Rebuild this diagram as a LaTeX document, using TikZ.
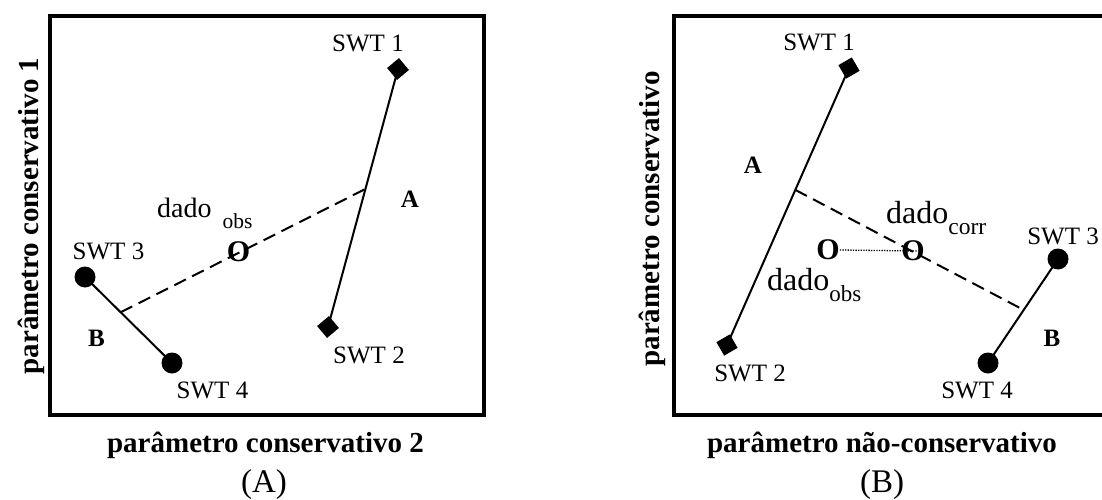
\documentclass[tikz,border=0pt]{standalone}
\usepackage{fontspec}
\setmainfont{Liberation Serif}
\usetikzlibrary{calc}
\begin{document}
\begin{tikzpicture}[x=1pt,y=-1pt,
  sq/.style={rectangle,fill=black,draw=none,minimum size=15.5pt,inner sep=0pt},
  dot/.style={circle,fill=black,draw=none,minimum size=21pt,inner sep=0pt},
  lbl/.style={font=\fontsize{25}{25}\selectfont,inner sep=0pt,anchor=base},
  letter/.style={font=\fontsize{25}{25}\selectfont\bfseries,inner sep=0pt,anchor=base},
  axis/.style={font=\fontsize{29}{29}\selectfont\bfseries,inner sep=0pt,anchor=base},
  panel/.style={font=\fontsize{33}{33}\selectfont,inner sep=0pt,anchor=base},
  datum/.style={font=\fontsize{30}{30}\selectfont\bfseries,inner sep=0pt},
  dlabel/.style={inner sep=0pt,anchor=base west},
  seg/.style={line width=2pt},
  perp/.style={line width=2pt,dash pattern=on 13pt off 7pt},
  frame/.style={line width=3.2pt},
  link/.style={line width=1.3pt,dash pattern=on 1.3pt off 1.3pt}
]
\newcommand{\subtxt}[2]{\raisebox{-11pt}{\fontsize{#1}{#1}\selectfont #2}}
\useasboundingbox (0,0) rectangle (1102,500);

% ---------------- Panel A ----------------
\draw[frame] (50,16) rectangle (484,415);
\node[sq,rotate=40] (a1) at (398,69) {};
\node[sq,rotate=40] (a2) at (328,327) {};
\node[dot] (a3) at (85,277) {};
\node[dot] (a4) at (172,363) {};
\draw[seg] (a1.center) -- (a2.center);
\draw[seg] (a3.center) -- (a4.center);
\coordinate (aA) at ($(a1.center)!0.465!(a2.center)$);
\coordinate (aB) at ($(a3.center)!0.41!(a4.center)$);
\draw[perp] (aB) -- (aA);
\node[datum] (aO) at (238.5,252) {O};
\node[lbl] (ta1) at (368,52) {SWT 1};
\node[lbl] (ta2) at (369,363) {SWT 2};
\node[lbl] (ta3) at (108.5,259) {SWT 3};
\node[lbl] (ta4) at (212.5,398) {SWT 4};
\node[letter] (tA) at (410,207) {A};
\node[letter] (tB) at (96.5,346) {B};
\node[dlabel,font=\fontsize{28}{28}\selectfont] (aobs) at (157,217) {dado\hspace{11pt}\subtxt{21.5}{obs}};
\node[axis,rotate=90] (ay) at (38,216) {parâmetro conservativo 1};
\node[axis] (ax) at (265.5,452) {parâmetro conservativo 2};
\node[panel] (pa) at (264,492) {(A)};

% ---------------- Panel B ----------------
\draw[frame] (1106,16) -- (674,16) -- (674,415) -- (1106,415);
\node[sq,rotate=30] (b1) at (849,68) {};
\node[sq,rotate=30] (b2) at (727,345) {};
\node[dot] (b3) at (1058,259) {};
\node[dot] (b4) at (988,363) {};
\draw[seg] (b1.center) -- (b2.center);
\draw[seg] (b3.center) -- (b4.center);
\coordinate (bA) at ($(b1.center)!0.44!(b2.center)$);
\coordinate (bB) at ($(b3.center)!0.49!(b4.center)$);
\draw[perp] (bA) -- (bB);
\node[datum] (bO1) at (828,250) {O};
\node[datum] (bO2) at (913,251) {O};
\draw[link] (bO1.east) -- ([xshift=5pt]bO2.center);
\node[lbl] (tb1) at (819,51) {SWT 1};
\node[lbl] (tb2) at (750,381) {SWT 2};
\node[lbl] (tb3) at (1063,244) {SWT 3};
\node[lbl] (tb4) at (977,398) {SWT 4};
\node[letter] (tbA) at (753,173) {A};
\node[letter] (tbB) at (1052,346) {B};
\node[dlabel,font=\fontsize{32}{32}\selectfont] (bobs) at (767,290) {dado\subtxt{23}{obs}};
\node[dlabel,font=\fontsize{32}{32}\selectfont] (bcorr) at (886,223) {dado\subtxt{23.5}{corr}};
\node[axis,rotate=90] (by) at (659,219) {parâmetro conservativo};
\node[axis] (bx) at (882,452) {parâmetro não-conservativo};
\node[panel] (pb) at (882,492) {(B)};
\end{tikzpicture}
\end{document}
